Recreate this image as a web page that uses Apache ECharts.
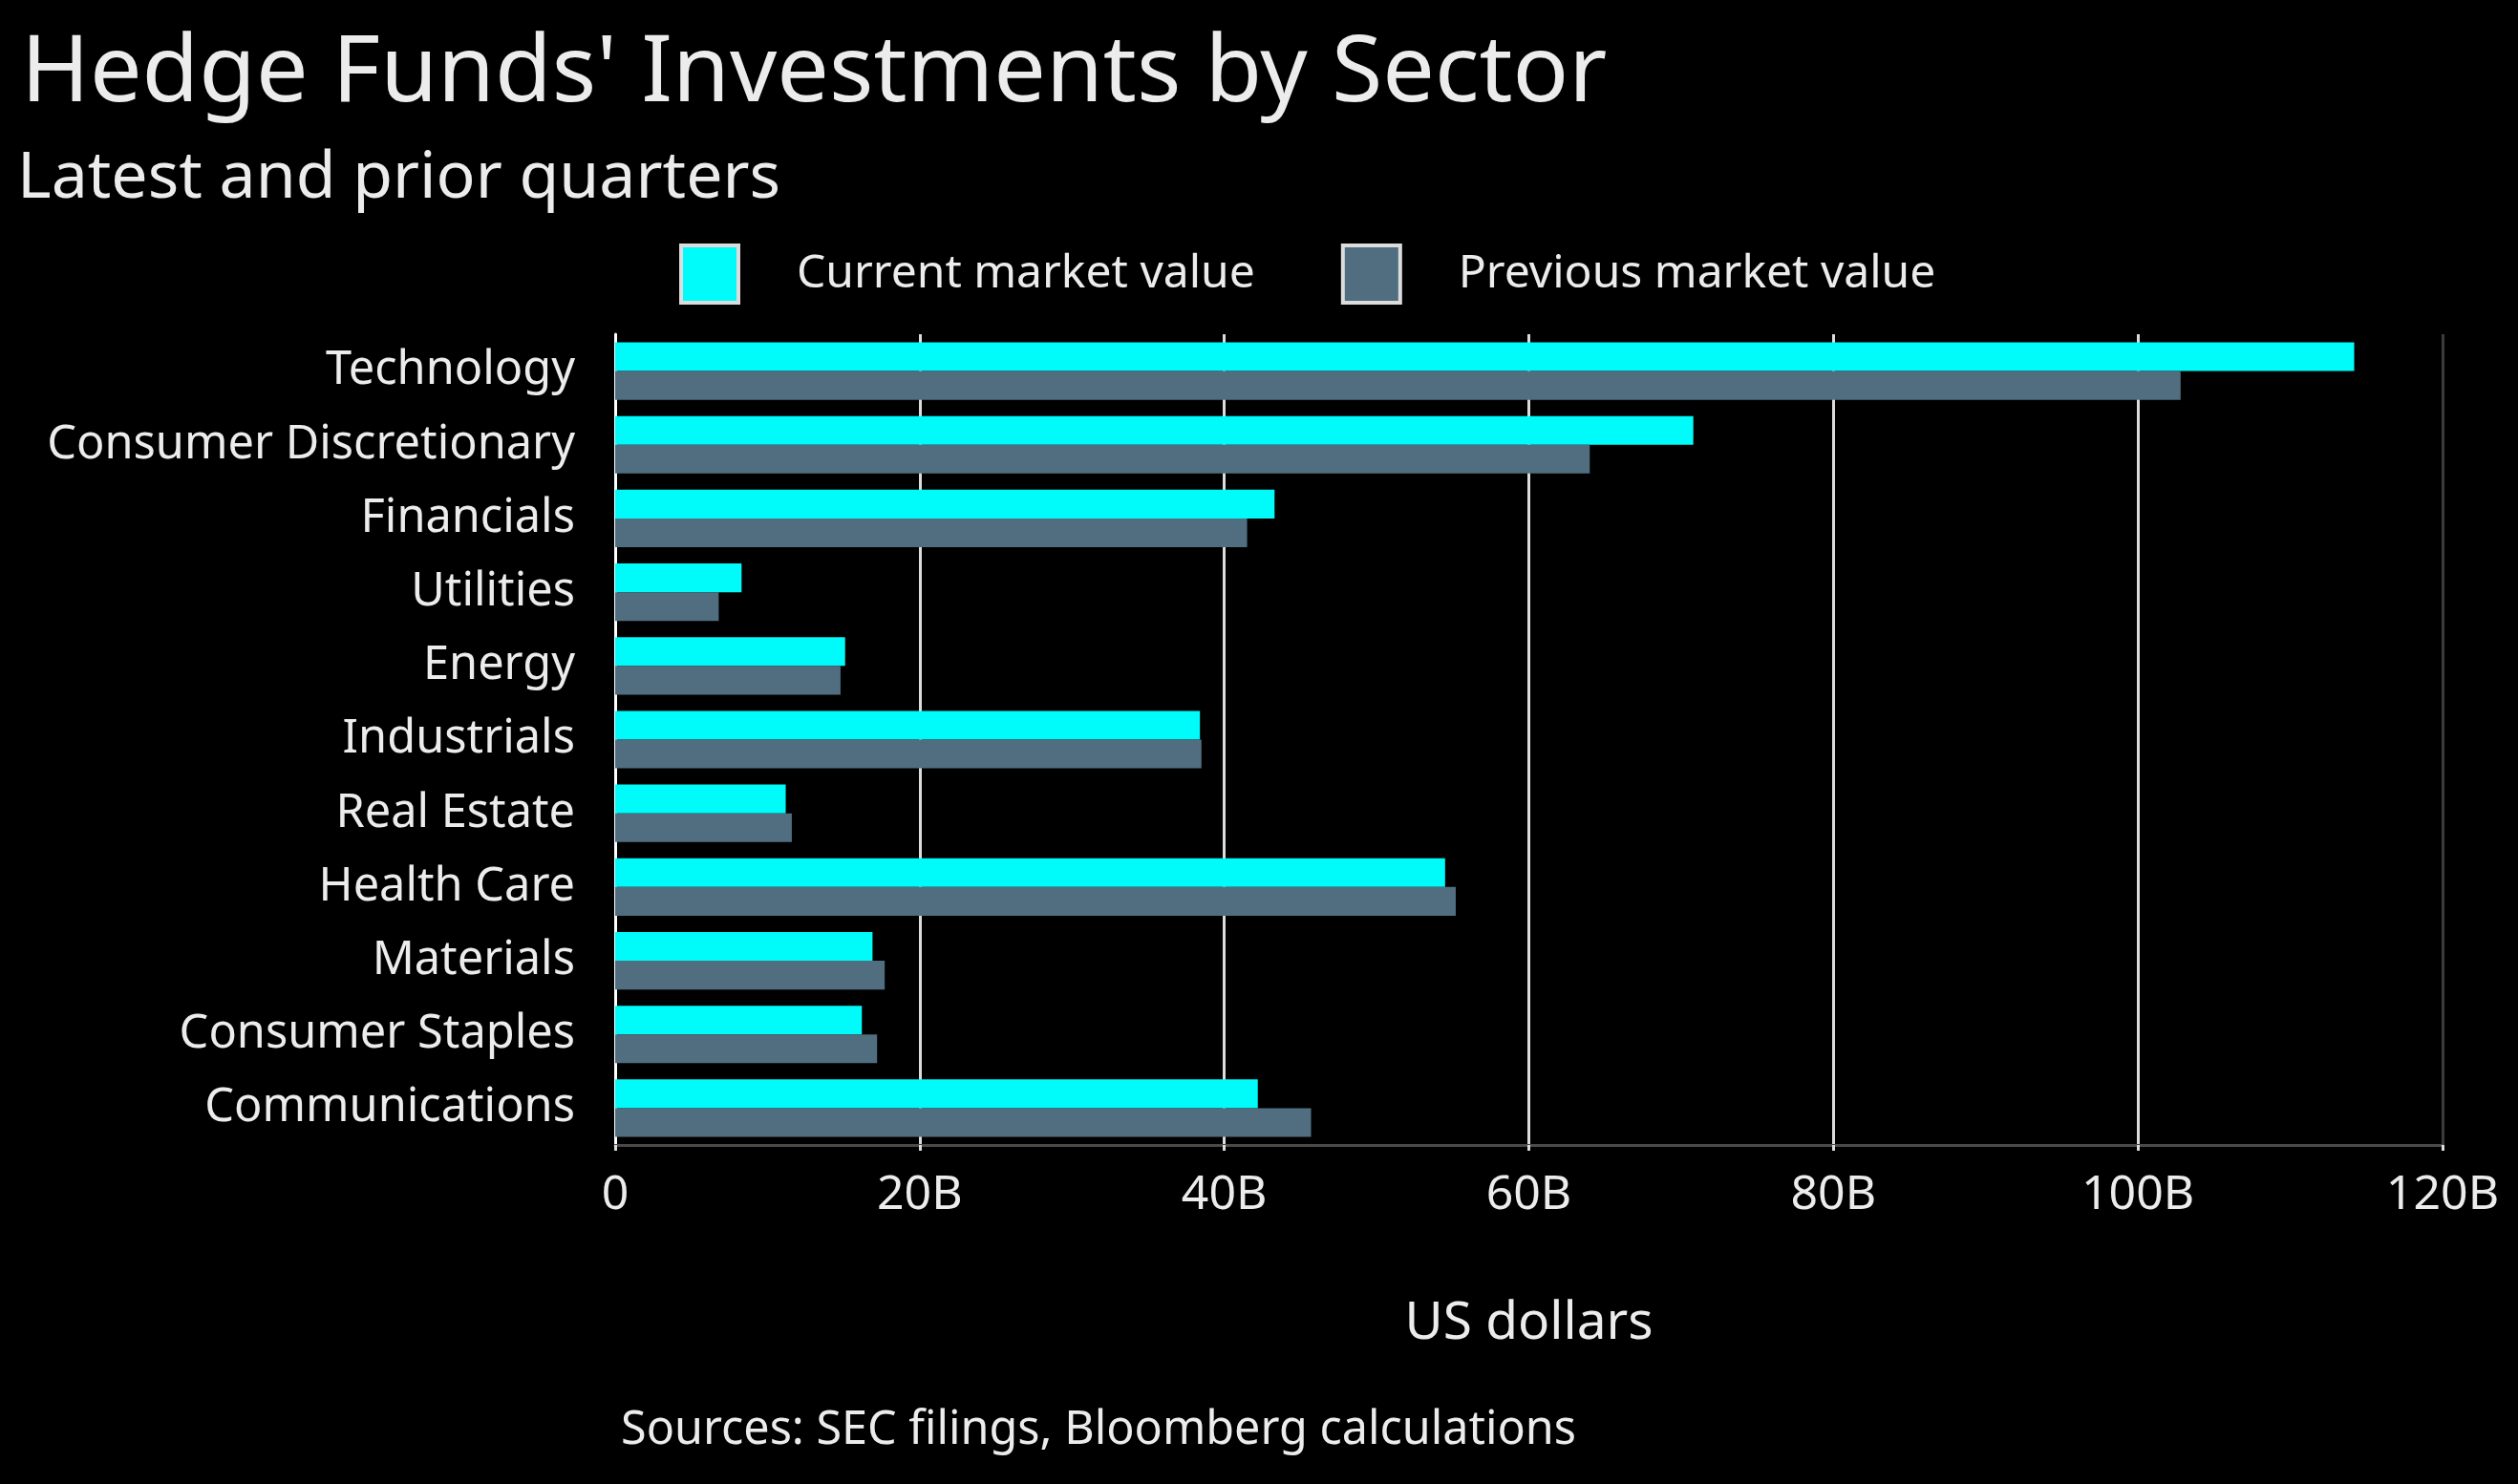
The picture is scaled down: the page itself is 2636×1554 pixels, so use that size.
<!DOCTYPE html>
<html>
<head>
<meta charset="utf-8">
<script src="https://cdn.jsdelivr.net/npm/echarts@6/dist/echarts.min.js"></script>
<style>
html,body{margin:0;padding:0;background:#000;}
#chart{width:2636px;height:1554px;}
</style>
</head>
<body>
<div id="chart"></div>
<script>
const categories = ['Technology','Consumer Discretionary','Financials','Utilities','Energy','Industrials','Real Estate','Health Care','Materials','Consumer Staples','Communications'];
const currentValues = [114.2, 70.8, 43.3, 8.3, 15.1, 38.4, 11.2, 54.5, 16.9, 16.2, 42.2];
const previousValues = [102.8, 64.0, 41.5, 6.8, 14.8, 38.5, 11.6, 55.2, 17.7, 17.2, 45.7];
const seriesNames = ['Current market value', 'Previous market value'];
const xTicks = [0, 20, 40, 60, 80, 100, 120];

const FONT = '"Noto Sans", sans-serif';
const chart = echarts.init(document.getElementById('chart'));
chart.setOption({
  backgroundColor: '#000000',
  animation: false,
  textStyle: { fontFamily: FONT },
  graphic: [
    { type: 'text', left: 22, top: 30, style: { text: "Hedge Funds' Investments by Sector", fill: '#ececec', font: '97px "Noto Sans", sans-serif' } },
    { type: 'text', left: 18, top: 154, style: { text: 'Latest and prior quarters', fill: '#ececec', font: '68px "Noto Sans", sans-serif' } },
    { type: 'text', left: 650, top: 1474, style: { text: 'Sources: SEC filings, Bloomberg calculations', fill: '#ececec', font: '48.5px "Noto Sans", sans-serif' } }
  ],
  legend: {
    left: 706, top: 250,
    itemWidth: 60, itemHeight: 60,
    itemGap: 90,
    icon: 'rect',
    textStyle: { color: '#ececec', fontSize: 48, fontFamily: FONT, padding: [0, 0, 0, 56] },
    data: seriesNames
  },
  grid: { left: 644, right: 79, top: 350, bottom: 355, containLabel: false },
  xAxis: {
    type: 'value',
    min: 0, max: 120, interval: 20,
    axisLine: { show: true, lineStyle: { color: '#4a4a4a', width: 3 } },
    axisTick: { show: true, length: 6, lineStyle: { color: '#dddddd', width: 3 } },
    axisLabel: { color: '#ececec', fontSize: 50, margin: 28, formatter: v => v === 0 ? '0' : v + 'B' },
    splitLine: { show: true, lineStyle: { color: ['#ffffff','#dcdcdc','#dcdcdc','#dcdcdc','#dcdcdc','#dcdcdc','#3c3c3c'], width: 3 } },
    name: 'US dollars', nameLocation: 'middle', nameGap: 160,
    nameTextStyle: { color: '#ececec', fontSize: 55, fontFamily: FONT }
  },
  yAxis: {
    type: 'category',
    data: categories,
    inverse: true,
    axisLine: { show: true, lineStyle: { color: '#ffffff', width: 3 } },
    axisTick: { show: false },
    axisLabel: { color: '#ececec', fontSize: 48.7, margin: 42 },
    splitLine: { show: false }
  },
  series: [
    { name: seriesNames[0], type: 'bar', data: currentValues, barGap: '0%', barCategoryGap: '22%',
      itemStyle: { color: '#00fbfb' } },
    { name: seriesNames[1], type: 'bar', data: previousValues, barGap: '0%', barCategoryGap: '22%',
      itemStyle: { color: '#506e80' } }
  ]
});
chart.setOption({
  legend: { itemStyle: { borderColor: '#dcdcdc', borderWidth: 4 } }
});
</script>
</body>
</html>
